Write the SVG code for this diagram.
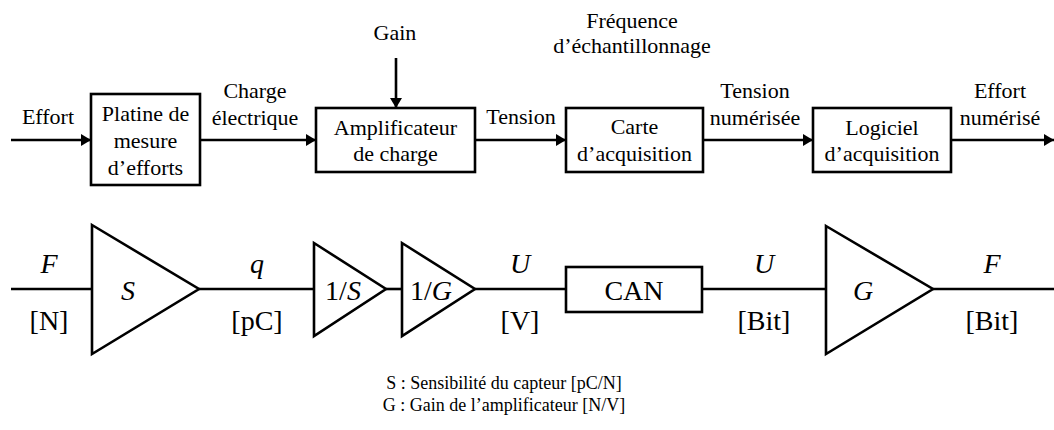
<svg xmlns="http://www.w3.org/2000/svg" width="1054" height="430" viewBox="0 0 1054 430">
<defs>
<marker id="arr" viewBox="0 0 10 12" refX="10" refY="6" markerWidth="10" markerHeight="12" markerUnits="userSpaceOnUse" orient="auto">
<path d="M0,0 L10,6 L0,12 Z" fill="#000"/>
</marker>
<style>
text{font-family:"Liberation Serif","Times New Roman",serif;fill:#000;text-anchor:middle}
.t{font-size:22px}
.b{font-size:28px}
.l{font-size:18px}
.i{font-style:italic}
.box{fill:#fff;stroke:#000;stroke-width:2.6}
.ln{fill:none;stroke:#000;stroke-width:2.6}
</style>
</defs>
<rect width="1054" height="430" fill="#fff"/>
<g id="connectors">
<line class="ln" x1="11" y1="140" x2="91" y2="140" marker-end="url(#arr)"/>
<line class="ln" x1="200" y1="140" x2="316" y2="140" marker-end="url(#arr)"/>
<line class="ln" x1="396" y1="58" x2="396" y2="108" marker-end="url(#arr)"/>
<line class="ln" x1="475" y1="140" x2="566" y2="140" marker-end="url(#arr)"/>
<line class="ln" x1="703" y1="140" x2="813" y2="140" marker-end="url(#arr)"/>
<line class="ln" x1="951" y1="140" x2="1054" y2="140" marker-end="url(#arr)"/>
<line class="ln" x1="11" y1="289" x2="92" y2="289"/>
<line class="ln" x1="199" y1="289" x2="314" y2="289"/>
<line class="ln" x1="386" y1="289" x2="402" y2="289"/>
<line class="ln" x1="475" y1="289" x2="566" y2="289"/>
<line class="ln" x1="702" y1="289" x2="826" y2="289"/>
<line class="ln" x1="933" y1="289" x2="1054" y2="289"/>
</g>
<g id="labels-top">
<text class="t" x="48" y="124">Effort</text>
<text class="t" x="255" y="98">Charge</text>
<text class="t" x="255" y="125">électrique</text>
<text class="t" x="395" y="40">Gain</text>
<text class="t" x="521" y="124">Tension</text>
<text class="t" x="632" y="28">Fréquence</text>
<text class="t" x="632" y="53">d’échantillonnage</text>
<text class="t" x="755" y="98">Tension</text>
<text class="t" x="755" y="125">numérisée</text>
<text class="t" x="1000" y="98">Effort</text>
<text class="t" x="1000" y="125">numérisé</text>
</g>
<g id="platine">
<rect class="box" x="91" y="94" width="109" height="91"/>
<text class="t" x="145.5" y="121">Platine de</text>
<text class="t" x="145.5" y="148">mesure</text>
<text class="t" x="145.5" y="175">d’efforts</text>
</g>
<g id="amplificateur">
<rect class="box" x="316" y="108" width="159" height="64"/>
<text class="t" x="395.5" y="135">Amplificateur</text>
<text class="t" x="395.5" y="161">de charge</text>
</g>
<g id="carte">
<rect class="box" x="566" y="108" width="137" height="64"/>
<text class="t" x="634.5" y="134">Carte</text>
<text class="t" x="634.5" y="161">d’acquisition</text>
</g>
<g id="logiciel">
<rect class="box" x="813" y="108" width="138" height="64"/>
<text class="t" x="882" y="135">Logiciel</text>
<text class="t" x="882" y="161">d’acquisition</text>
</g>
<g id="labels-bottom">
<text class="b i" x="49" y="273">F</text>
<text class="b" x="49" y="330">[N]</text>
<text class="b i" x="257" y="273">q</text>
<text class="b" x="257" y="330">[pC]</text>
<text class="b i" x="520" y="273">U</text>
<text class="b" x="520" y="330">[V]</text>
<text class="b i" x="764" y="273">U</text>
<text class="b" x="764" y="330">[Bit]</text>
<text class="b i" x="992" y="273">F</text>
<text class="b" x="992" y="330">[Bit]</text>
</g>
<g id="gainS">
<polygon class="box" points="92,225 199,289 92,354"/>
<text class="b i" x="128" y="300">S</text>
</g>
<g id="invS">
<polygon class="box" points="314,243 386,289 314,336"/>
<text class="b" x="343" y="300">1/<tspan class="i">S</tspan></text>
</g>
<g id="invG">
<polygon class="box" points="402,243 475,289 402,336"/>
<text class="b" x="431" y="300">1/<tspan class="i">G</tspan></text>
</g>
<g id="can">
<rect class="box" x="566" y="267" width="136" height="45"/>
<text class="b" x="634" y="300">CAN</text>
</g>
<g id="gainG">
<polygon class="box" points="826,226 933,289 826,354"/>
<text class="b i" x="863" y="300">G</text>
</g>
<g id="legend">
<text class="l" x="504" y="389">S : Sensibilité du capteur [pC/N]</text>
<text class="l" x="504" y="411">G : Gain de l’amplificateur [N/V]</text>
</g>
</svg>
